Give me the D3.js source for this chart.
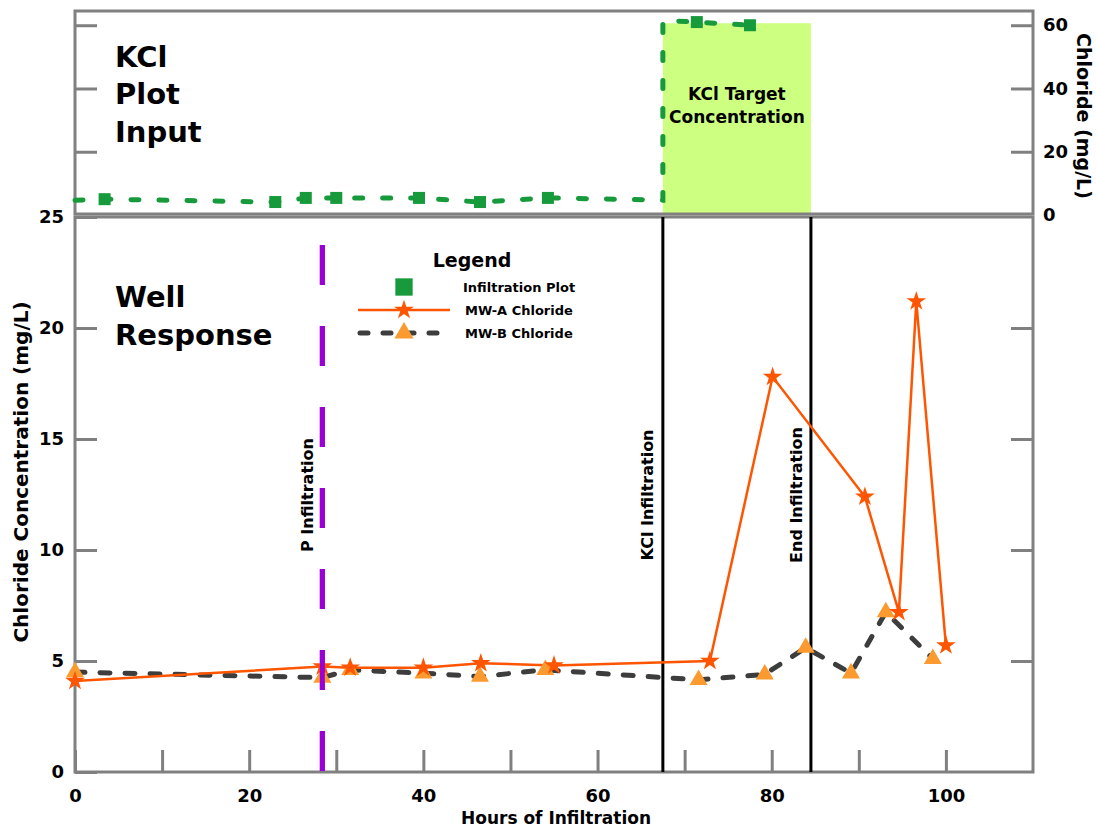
<!DOCTYPE html>
<html>
<head>
<meta charset="utf-8">
<script src="https://cdn.jsdelivr.net/npm/d3@7"></script>
<style>
  body { margin: 0; background: #fff; }
  svg text { font-family: "DejaVu Sans", sans-serif; font-weight: bold; fill: #000; }
</style>
</head>
<body>
<svg id="chart" width="1097" height="829"></svg>
<script>
// Top panel - KCl infiltration plot input
const inputHours = [0, 3.4, 23, 26.5, 30, 39.5, 46.5, 54.3, 67.5, 67.5, 71.4, 77.5];
const inputChloride = [4.7, 5.0, 4.1, 5.4, 5.4, 5.4, 4.1, 5.4, 4.7, 61.5, 61, 60];
const inputMarker = [false, true, true, true, true, true, true, true, false, false, true, true];
const targetHours = [67.5, 84.5];
const targetLevel = 60;

// Bottom panel - well response
const mwaHours = [0, 28.4, 31.6, 40, 46.6, 55, 72.9, 80.1, 90.7, 94.6, 96.6, 100];
const mwaChloride = [4.1, 4.75, 4.7, 4.7, 4.9, 4.8, 5.0, 17.8, 12.4, 7.2, 21.2, 5.7];
const mwbHours = [0, 28.4, 31.6, 40, 46.5, 54, 71.6, 79.2, 83.9, 89.1, 93.1, 98.5];
const mwbChloride = [4.5, 4.25, 4.6, 4.45, 4.3, 4.6, 4.15, 4.4, 5.6, 4.45, 7.2, 5.1];

// Event markers
const eventNames = ['P Infiltration', 'KCl Infiltration', 'End Infiltration'];
const eventHours = [28.4, 67.5, 84.5];

// Ticks
const xTicks = [0, 10, 20, 30, 40, 50, 60, 70, 80, 90, 100];
const xLabels = [0, 20, 40, 60, 80, 100];
const wellTicks = [0, 5, 10, 15, 20, 25];
const inputTicks = [0, 20, 40, 60];

const legendNames = ['Infiltration Plot', 'MW-A Chloride', 'MW-B Chloride'];

const GRAY = '#808080';
const GREEN = '#169a3b';
const ORANGE = '#ff5500';
const TRI = '#fb9a2e';
const DARK = '#3d3d3d';
const PURPLE = '#9a00d6';

const svg = d3.select('#chart');
const left = 75, right = 1033;
const topY = 11, topBottom = 214, wellTop = 217, wellBottom = 772;

const x = d3.scaleLinear().domain([0, 110]).range([left, right]);
const yInput = d3.scaleLinear().domain([0, 64.5]).range([topBottom + 1, topY]);
const yWell = d3.scaleLinear().domain([0, 25]).range([wellBottom, wellTop]);

const inputData = inputHours.map((h, i) => ({ h, v: inputChloride[i], m: inputMarker[i] }));
const mwa = mwaHours.map((h, i) => ({ h, v: mwaChloride[i] }));
const mwb = mwbHours.map((h, i) => ({ h, v: mwbChloride[i] }));

function styleAxis(g) {
    g.select('.domain').remove();
    g.selectAll('.tick line').attr('stroke', GRAY).attr('stroke-width', 3);
    g.selectAll('.tick text').attr('font-size', 18).attr('font-family', '"DejaVu Sans", sans-serif');
}

// Green target box
svg.append('rect')
    .attr('x', x(targetHours[0]))
    .attr('y', yInput(targetLevel) - 2)
    .attr('width', x(targetHours[1]) - x(targetHours[0]))
    .attr('height', yInput(0) - yInput(targetLevel) + 1)
    .attr('fill', '#cdff80');

svg.append('text').attr('x', x((targetHours[0] + targetHours[1]) / 2)).attr('y', 100)
    .attr('text-anchor', 'middle').attr('font-size', 17).text('KCl Target');
svg.append('text').attr('x', x((targetHours[0] + targetHours[1]) / 2)).attr('y', 123)
    .attr('text-anchor', 'middle').attr('font-size', 17).text('Concentration');

// Axes
svg.append('g').attr('transform', `translate(0,${wellBottom})`)
    .call(d3.axisBottom(x).tickValues(xTicks).tickSizeInner(-22).tickSizeOuter(0).tickPadding(17)
        .tickFormat(d => xLabels.includes(d) ? d : ''))
    .call(styleAxis);

svg.append('g').attr('transform', `translate(${left},0)`)
    .call(d3.axisLeft(yWell).tickValues(wellTicks).tickSizeInner(-22).tickSizeOuter(0).tickPadding(11))
    .call(styleAxis);

svg.append('g').attr('transform', `translate(${right},0)`)
    .call(d3.axisRight(yWell).tickValues(wellTicks.slice(1, 5)).tickSizeInner(-22).tickSizeOuter(0).tickFormat(''))
    .call(styleAxis);

svg.append('g').attr('transform', `translate(${left},0)`)
    .call(d3.axisLeft(yInput).tickValues(inputTicks.slice(1)).tickSizeInner(-22).tickSizeOuter(0).tickFormat(''))
    .call(styleAxis);

svg.append('g').attr('transform', `translate(${right},0)`)
    .call(d3.axisRight(yInput).tickValues(inputTicks).tickSizeInner(-22).tickSizeOuter(0).tickPadding(10))
    .call(styleAxis)
    .call(g => g.selectAll('.tick line').filter(d => d === 0).remove());

// Frames
svg.append('rect').attr('x', left).attr('y', topY).attr('width', right - left).attr('height', topBottom - topY)
    .attr('fill', 'none').attr('stroke', GRAY).attr('stroke-width', 3);
svg.append('rect').attr('x', left).attr('y', wellTop).attr('width', right - left).attr('height', wellBottom - wellTop)
    .attr('fill', 'none').attr('stroke', GRAY).attr('stroke-width', 3);

// Event lines
eventHours.forEach((h, i) => {
    const isP = i === 0;
    svg.append('line')
        .attr('x1', x(h)).attr('x2', x(h))
        .attr('y1', isP ? 245 : wellTop).attr('y2', wellBottom)
        .attr('stroke', isP ? PURPLE : '#000')
        .attr('stroke-width', isP ? 5 : 3)
        .attr('stroke-dasharray', isP ? '40,41' : null);
    svg.append('text')
        .attr('transform', `translate(${x(h) - 15},495) rotate(-90)`)
        .attr('dy', '0.35em').attr('text-anchor', 'middle').attr('font-size', 16)
        .text(eventNames[i]);
});

// Infiltration plot (top)
const inputLine = d3.line().x(d => x(d.h)).y(d => yInput(d.v));
svg.append('path').datum(inputData)
    .attr('fill', 'none').attr('stroke', GREEN).attr('stroke-width', 5)
    .attr('stroke-dasharray', '8,20').attr('stroke-linecap', 'round')
    .attr('d', inputLine);
svg.selectAll('.sq').data(inputData.filter(d => d.m)).join('path')
    .attr('transform', d => `translate(${x(d.h)},${yInput(d.v)})`)
    .attr('d', d3.symbol(d3.symbolSquare, 144)())
    .attr('fill', GREEN);

// Well response (bottom)
const wellLine = d3.line().x(d => x(d.h)).y(d => yWell(d.v));
svg.append('path').datum(mwb)
    .attr('fill', 'none').attr('stroke', DARK).attr('stroke-width', 5)
    .attr('stroke-dasharray', '10,15').attr('stroke-linecap', 'round')
    .attr('d', wellLine);
svg.append('path').datum(mwa)
    .attr('fill', 'none').attr('stroke', ORANGE).attr('stroke-width', 2.5)
    .attr('d', wellLine);
svg.selectAll('.tri').data(mwb).join('path')
    .attr('transform', d => `translate(${x(d.h)},${yWell(d.v)})`)
    .attr('d', d3.symbol(d3.symbolTriangle, 140)())
    .attr('fill', TRI);
svg.selectAll('.star').data(mwa).join('path')
    .attr('transform', d => `translate(${x(d.h)},${yWell(d.v)})`)
    .attr('d', d3.symbol(d3.symbolStar, 120)())
    .attr('fill', ORANGE);

// Purple dash drawn again above the markers
svg.append('line')
    .attr('x1', x(eventHours[0])).attr('x2', x(eventHours[0]))
    .attr('y1', 245).attr('y2', wellBottom)
    .attr('stroke', PURPLE).attr('stroke-width', 5).attr('stroke-dasharray', '40,41');

// Panel titles
[['KCl', 67], ['Plot', 104], ['Input', 142], ['Well', 307], ['Response', 345]].forEach(([t, y]) => {
    svg.append('text').attr('x', 115).attr('y', y).attr('font-size', 29).text(t);
});

// Axis titles
svg.append('text').attr('transform', 'translate(21,472) rotate(-90)').attr('dy', '0.35em')
    .attr('text-anchor', 'middle').attr('font-size', 20).text('Chloride Concentration (mg/L)');
svg.append('text').attr('transform', 'translate(1084,116) rotate(90)').attr('dy', '0.35em')
    .attr('text-anchor', 'middle').attr('font-size', 19).text('Chloride (mg/L)');
svg.append('text').attr('x', 556).attr('y', 824)
    .attr('text-anchor', 'middle').attr('font-size', 17).text('Hours of Infiltration');

// Legend
const legend = svg.append('g');
legend.append('text').attr('x', 472).attr('y', 267).attr('text-anchor', 'middle').attr('font-size', 19).text('Legend');
const rowY = [287, 310, 333];
legend.append('path').attr('transform', `translate(404,${rowY[0]})`)
    .attr('d', d3.symbol(d3.symbolSquare, 300)()).attr('fill', GREEN);
legend.append('line').attr('x1', 358).attr('x2', 450).attr('y1', rowY[1]).attr('y2', rowY[1])
    .attr('stroke', ORANGE).attr('stroke-width', 2.5);
legend.append('path').attr('transform', `translate(404,${rowY[1]})`)
    .attr('d', d3.symbol(d3.symbolStar, 120)()).attr('fill', ORANGE);
legend.append('line').attr('x1', 360).attr('x2', 450).attr('y1', rowY[2]).attr('y2', rowY[2])
    .attr('stroke', DARK).attr('stroke-width', 5).attr('stroke-dasharray', '8,15').attr('stroke-linecap', 'round');
legend.append('path').attr('transform', `translate(404,${rowY[2]})`)
    .attr('d', d3.symbol(d3.symbolTriangle, 160)()).attr('fill', TRI);
legendNames.forEach((n, i) => {
    legend.append('text').attr('x', i === 0 ? 463 : 465).attr('y', rowY[i] + 5).attr('font-size', 13).text(n);
});
</script>
</body>
</html>
